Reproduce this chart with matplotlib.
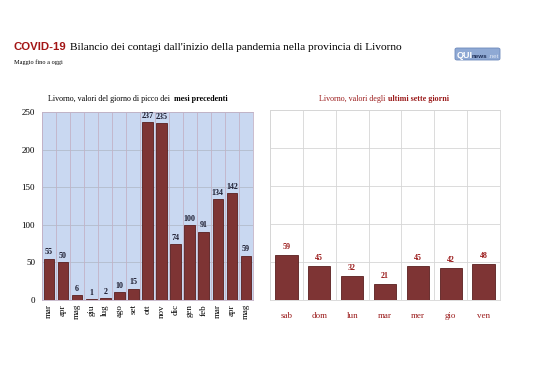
import matplotlib
matplotlib.use("Agg")
import matplotlib.pyplot as plt
from matplotlib.patches import FancyBboxPatch

# data
months = ["mar", "apr", "mag", "giu", "lug", "ago", "set", "ott", "nov",
          "dic", "gen", "feb", "mar", "apr", "mag"]
month_peaks = [55, 50, 6, 1, 2, 10, 15, 237, 235, 74, 100, 91, 134, 142, 59]

days = ["sab", "dom", "lun", "mar", "mer", "gio", "ven"]
day_values = [59, 45, 32, 21, 45, 42, 48]

bar_color = "#7e3434"
edge_color = "#5a1f1f"
dark_red = "#9b1b1b"
serif = "Liberation Serif"
W, H = 538, 380

fig = plt.figure(figsize=(5.38, 3.80), dpi=100)
fig.patch.set_facecolor("white")
renderer = fig.canvas.get_renderer()


# two-part text (normal + bold) centered on cx, baseline at y (pixels from top)
def two_part(cx, y, normal, bold, size, color):
    a = fig.text(0, 1 - y / H, normal, fontsize=size, family=serif,
                 color=color, va="baseline")
    b = fig.text(0, 1 - y / H, bold, fontsize=size, family=serif,
                 fontweight="bold", color=color, va="baseline")
    wa = a.get_window_extent(renderer).width
    wb = b.get_window_extent(renderer).width
    x0 = cx - (wa + wb) / 2
    a.set_x(x0 / W)
    b.set_x((x0 + wa) / W)


# title
t1 = fig.text(14 / W, 1 - 50 / H, "COVID-19", fontsize=8.2, fontweight="bold",
              color="#a31515", family="Liberation Sans", va="baseline")
bb = t1.get_window_extent(renderer)
fig.text((bb.x1 + 3) / W, 1 - 50 / H,
         "Bilancio dei contagi dall'inizio della pandemia nella provincia di Livorno",
         fontsize=8.2, family=serif, color="black", va="baseline")
fig.text(14 / W, 1 - 64 / H, "Maggio fino a oggi", fontsize=4.5,
         family=serif, va="baseline")

# logo
logo = FancyBboxPatch((455 / W, 1 - 60 / H), 45 / W, 12 / H,
                      boxstyle="round,pad=0.0,rounding_size=0.004",
                      transform=fig.transFigure, facecolor="#8fa9d4",
                      edgecolor="#6d89bb", linewidth=0.6)
fig.patches.append(logo)
fig.text(457 / W, 1 - 58 / H, "QUI", fontsize=6.5, fontweight="bold",
         color="white", family="Liberation Sans", va="baseline")
fig.text(472 / W, 1 - 58 / H, "news", fontsize=4.5, fontweight="bold",
         color="#1d2d55", family="Liberation Sans", va="baseline")
fig.text(488 / W, 1 - 58 / H, ".net", fontsize=4.5,
         color="#dfe7f5", family="Liberation Sans", va="baseline")

# left chart
ax1 = fig.add_axes([42 / W, 1 - 300 / H, 211 / W, 188 / H])
ax1.set_facecolor("#c9d8f1")
x1 = range(len(months))
ax1.bar(x1, month_peaks, width=0.75, color=bar_color, edgecolor=edge_color,
        linewidth=0.6, zorder=3)
for i, v in enumerate(month_peaks):
    ax1.text(i, v + 3, str(v), ha="center", va="bottom", fontsize=5.8,
             fontweight="bold", color="#1b1b2e", family=serif, zorder=4)
ax1.set_xlim(-0.5, len(months) - 0.5)
ax1.set_ylim(0, 250)
ax1.set_yticks(range(0, 251, 50))
ax1.set_xticks(list(x1))
ax1.set_xticklabels(months, rotation=90, fontsize=6.5, family=serif)
for lab in ax1.get_yticklabels():
    lab.set_family(serif)
    lab.set_fontsize(6.5)
ax1.tick_params(length=0, pad=3)
ax1.tick_params(axis="y", pad=5)
for y in range(50, 251, 50):
    ax1.axhline(y, color="#b3bccb", linewidth=0.6, zorder=1)
for i in range(len(months) + 1):
    ax1.axvline(i - 0.5, color="#c2b2c6", linewidth=0.6, zorder=1)
for s in ax1.spines.values():
    s.set_color("#c2b2c6")
    s.set_linewidth(0.6)
two_part(138, 101, "Livorno, valori del giorno di picco dei  ",
         "mesi precedenti", 5.8, "black")

# right chart
ax2 = fig.add_axes([270 / W, 1 - 300 / H, 230 / W, 190 / H])
ax2.set_facecolor("white")
x2 = range(len(days))
ax2.bar(x2, day_values, width=0.68, color=bar_color, edgecolor=edge_color,
        linewidth=0.6, zorder=3)
for i, v in enumerate(day_values):
    ax2.text(i, v + 5, str(v), ha="center", va="bottom", fontsize=5.8,
             fontweight="bold", color=dark_red, family=serif, zorder=4)
ax2.set_xlim(-0.5, len(days) - 0.5)
ax2.set_ylim(0, 250)
ax2.set_yticks([])
ax2.set_xticks(list(x2))
ax2.set_xticklabels(days, fontsize=6.5, family=serif, color=dark_red)
ax2.tick_params(length=0, pad=9)
for y in range(50, 251, 50):
    ax2.axhline(y, color="#d6d6d6", linewidth=0.6, zorder=1)
for i in range(len(days) + 1):
    ax2.axvline(i - 0.5, color="#d6d6d6", linewidth=0.6, zorder=1)
for s in ax2.spines.values():
    s.set_color("#d6d6d6")
    s.set_linewidth(0.6)
two_part(384, 101, "Livorno, valori degli ", "ultimi sette giorni",
         5.8, dark_red)

fig.savefig("out.png", dpi=100)
